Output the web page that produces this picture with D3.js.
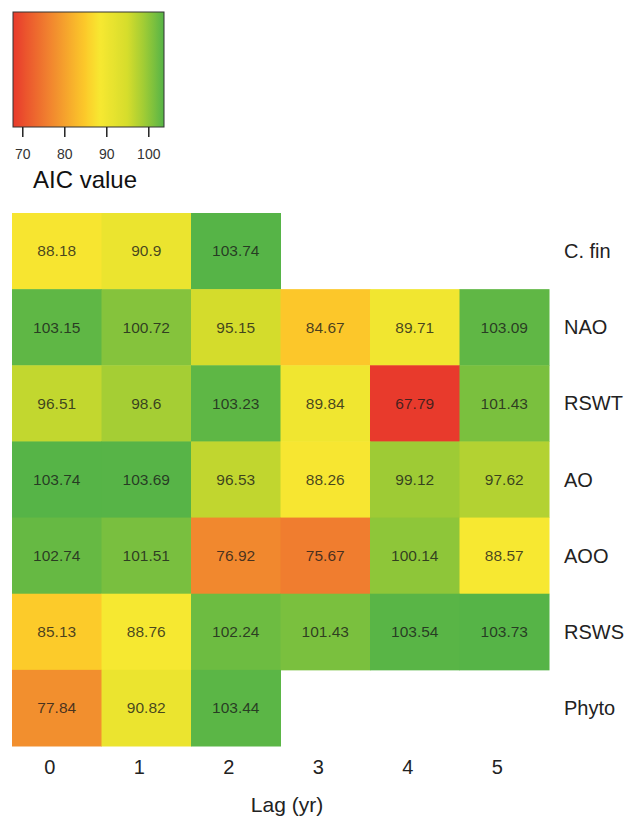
<!DOCTYPE html>
<html>
<head>
<meta charset="utf-8">
<script src="https://cdn.jsdelivr.net/npm/d3@7"></script>
<style>
  body { margin: 0; background: #fff; }
  text { font-family: "Liberation Sans", Arial, sans-serif; }
</style>
</head>
<body>
<script>
const width = 641, height = 822;

// data
const lags = [0, 1, 2, 3, 4, 5];
const variables = ["C. fin", "NAO", "RSWT", "AO", "AOO", "RSWS", "Phyto"];
const aicValues = [
  [88.18, 90.9, 103.74, null, null, null],
  [103.15, 100.72, 95.15, 84.67, 89.71, 103.09],
  [96.51, 98.6, 103.23, 89.84, 67.79, 101.43],
  [103.74, 103.69, 96.53, 88.26, 99.12, 97.62],
  [102.74, 101.51, 76.92, 75.67, 100.14, 88.57],
  [85.13, 88.76, 102.24, 101.43, 103.54, 103.73],
  [77.84, 90.82, 103.44, null, null, null]
];
const legendTicks = [70, 80, 90, 100];

let cells = [];
aicValues.forEach((row, i) => {
  row.forEach((v, j) => {
    if (v !== null) cells.push({ variable: variables[i], lag: lags[j], value: v });
  });
});

const minV = d3.min(cells, d => d.value), maxV = d3.max(cells, d => d.value);

// red -> orange -> yellow -> green ramp
const color = d3.scaleLinear()
    .domain([minV, 76, 85, 88.5, 95, 99, maxV])
    .range(["#e83a2c", "#f0802f", "#fcca2a", "#f7e831", "#d6dd2c", "#a0cc35", "#56b447"])
    .clamp(true);

let svg = d3.select("body").append("svg")
    .attr("width", width)
    .attr("height", height);

// ---- legend ----
const legX = d3.scaleLinear().domain([minV, maxV]).range([13, 164]);
const legTop = 12, legBottom = 127;

let grad = svg.append("defs").append("linearGradient")
    .attr("id", "aicGrad");
d3.range(0, 1.0001, 0.02).forEach(t => {
  grad.append("stop")
      .attr("offset", t)
      .attr("stop-color", color(minV + t * (maxV - minV)));
});

svg.append("rect")
    .attr("x", legX.range()[0])
    .attr("y", legTop)
    .attr("width", legX.range()[1] - legX.range()[0])
    .attr("height", legBottom - legTop)
    .attr("fill", "url(#aicGrad)")
    .attr("stroke", "#333")
    .attr("stroke-width", 1);

let legAxis = svg.append("g")
    .attr("transform", `translate(0, ${legBottom})`)
    .call(d3.axisBottom(legX).tickValues(legendTicks).tickSize(10).tickPadding(12));
legAxis.select(".domain").remove();
legAxis.selectAll("line").attr("stroke", "#222").attr("stroke-width", 1.5);
legAxis.selectAll("text").attr("font-size", 14).attr("fill", "#333")
    .style("font-family", "Liberation Sans, Arial, sans-serif");

svg.append("text")
    .attr("x", 85)
    .attr("y", 188)
    .attr("text-anchor", "middle")
    .attr("font-size", 24)
    .attr("fill", "#111")
    .text("AIC value");

// ---- heatmap ----
const x = d3.scaleBand().domain(lags).range([12, 549]);
const y = d3.scaleBand().domain(variables).range([213, 746]);

svg.append("g").selectAll("rect")
    .data(cells)
    .enter().append("rect")
    .attr("x", d => x(d.lag))
    .attr("y", d => y(d.variable))
    .attr("width", x.bandwidth() + 0.5)
    .attr("height", y.bandwidth() + 0.5)
    .attr("fill", d => color(d.value));

svg.append("g").selectAll("text")
    .data(cells)
    .enter().append("text")
    .attr("x", d => x(d.lag) + x.bandwidth() / 2)
    .attr("y", d => y(d.variable) + y.bandwidth() / 2)
    .attr("dy", "0.35em")
    .attr("text-anchor", "middle")
    .attr("font-size", 15.5)
    .attr("fill", "#1a1a1a")
    .attr("fill-opacity", 0.8)
    .text(d => String(d.value));

// row labels
svg.append("g").selectAll("text")
    .data(variables)
    .enter().append("text")
    .attr("x", 564)
    .attr("y", d => y(d) + y.bandwidth() / 2)
    .attr("dy", "0.35em")
    .attr("font-size", 20)
    .attr("fill", "#222")
    .text(d => d);

// lag axis
let xAxis = svg.append("g")
    .attr("transform", `translate(-7, 746)`)
    .call(d3.axisBottom(x).tickSize(0).tickPadding(14));
xAxis.select(".domain").remove();
xAxis.selectAll("text").attr("font-size", 20).attr("fill", "#222")
    .style("font-family", "Liberation Sans, Arial, sans-serif");

svg.append("text")
    .attr("x", 287)
    .attr("y", 812)
    .attr("text-anchor", "middle")
    .attr("font-size", 21)
    .attr("fill", "#222")
    .text("Lag (yr)");
</script>
</body>
</html>
